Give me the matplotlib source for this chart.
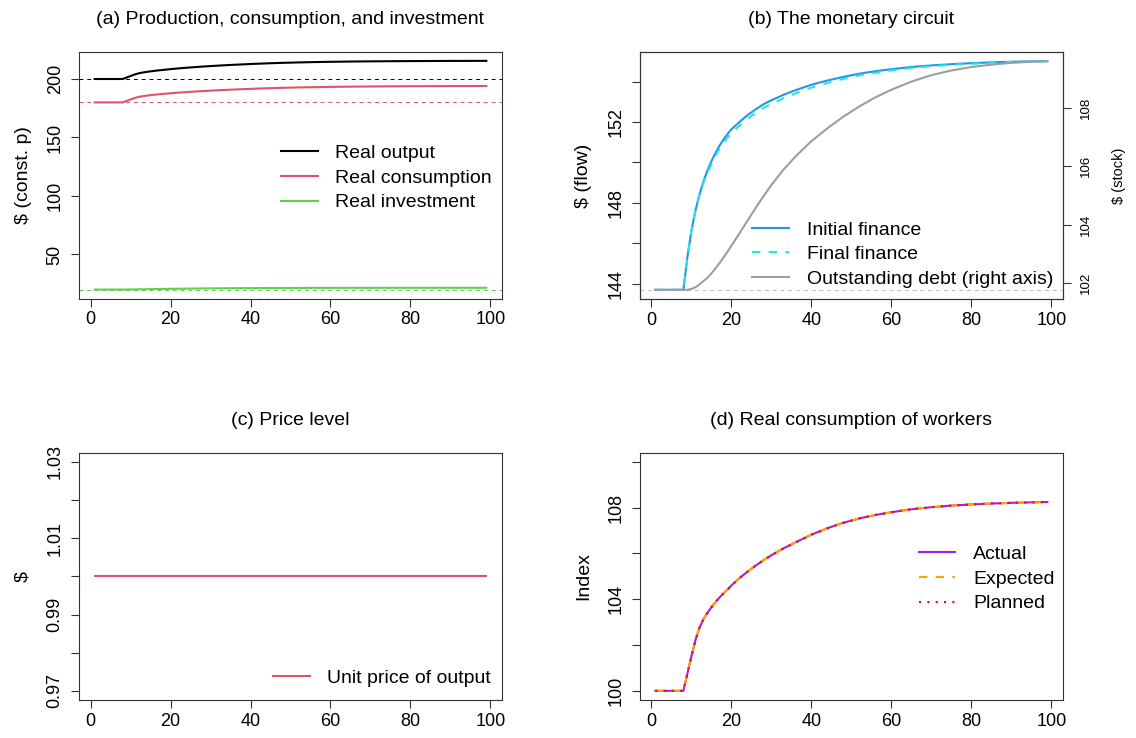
import numpy as np
import matplotlib.pyplot as plt

plt.rcParams['font.family'] = ['Liberation Sans', 'DejaVu Sans']

t = [1, 8, 9, 10, 11, 12, 13, 14, 15, 16, 17, 18, 19, 20, 22, 24, 26, 28, 30,
     33, 36, 40, 44, 48, 52, 56, 60, 65, 70, 75, 80, 85, 90, 95, 99]

# (a) production, consumption, investment (constant prices)
real_output = [200, 200, 201.3, 202.61, 203.85, 204.85, 205.53, 206.07, 206.56,
               206.99, 207.39, 207.75, 208.08, 208.44, 209.08, 209.64, 210.16,
               210.64, 211.07, 211.66, 212.18, 212.83, 213.37, 213.83, 214.19,
               214.48, 214.7, 214.94, 215.1, 215.23, 215.33, 215.4, 215.46,
               215.49, 215.53]
real_consumption = [180, 180, 181.28, 182.55, 183.74, 184.68, 185.3, 185.78,
                    186.21, 186.58, 186.92, 187.23, 187.51, 187.82, 188.36,
                    188.84, 189.28, 189.69, 190.06, 190.57, 191.02, 191.59,
                    192.07, 192.48, 192.8, 193.06, 193.26, 193.48, 193.63,
                    193.75, 193.84, 193.91, 193.96, 193.99, 194.03]
real_investment = [20, 20, 20.02, 20.06, 20.11, 20.17, 20.23, 20.29, 20.35,
                   20.41, 20.47, 20.52, 20.57, 20.62, 20.72, 20.8, 20.88, 20.95,
                   21.01, 21.09, 21.16, 21.24, 21.3, 21.35, 21.39, 21.42, 21.44,
                   21.46, 21.47, 21.48, 21.49, 21.49, 21.5, 21.5, 21.5]
base_output, base_consumption, base_investment = 200, 180, 20

# (b) monetary circuit
initial_finance = [143.69, 143.69, 145.3, 146.6, 147.6, 148.4, 149.05, 149.6,
                   150.06, 150.46, 150.82, 151.13, 151.4, 151.64, 152.0, 152.34,
                   152.62, 152.88, 153.08, 153.35, 153.58, 153.85, 154.06,
                   154.24, 154.4, 154.52, 154.62, 154.73, 154.81, 154.87,
                   154.92, 154.96, 154.99, 155.01, 155.02]
final_finance = [143.69, 143.69, 145.3, 146.6, 147.6, 148.4, 148.97, 149.48,
                 149.91, 150.31, 150.67, 150.95, 151.22, 151.46, 151.82, 152.16,
                 152.44, 152.7, 152.9, 153.18, 153.42, 153.71, 153.94, 154.14,
                 154.32, 154.44, 154.56, 154.68, 154.77, 154.84, 154.89, 154.94,
                 154.98, 155.01, 155.02]
outstanding_debt = [101.77, 101.77, 101.77, 101.8, 101.86, 101.95, 102.07,
                    102.18, 102.33, 102.5, 102.68, 102.87, 103.07, 103.28,
                    103.7, 104.13, 104.56, 104.97, 105.36, 105.88, 106.33,
                    106.86, 107.3, 107.7, 108.05, 108.36, 108.62, 108.9, 109.12,
                    109.28, 109.4, 109.48, 109.54, 109.58, 109.6]

# (c) price level
price_t = [1, 99]
unit_price = [1.0, 1.0]

# (d) real consumption of workers, index
cons_actual = [100, 100, 100.75, 101.5, 102.2, 102.75, 103.12, 103.4, 103.65,
               103.87, 104.07, 104.25, 104.42, 104.6, 104.92, 105.2, 105.46,
               105.7, 105.92, 106.22, 106.48, 106.82, 107.1, 107.34, 107.53,
               107.68, 107.8, 107.93, 108.02, 108.09, 108.14, 108.18, 108.21,
               108.23, 108.25]
cons_expected = cons_actual[:]
cons_planned = cons_actual[:]

W, H = 1136, 738
fig = plt.figure(figsize=(W / 100, H / 100), dpi=100)


def box(x0, y0, x1, y1):
    return [x0 / W, 1 - y1 / H, (x1 - x0) / W, (y1 - y0) / H]


SPINE = '#333333'
LW = 1.5
TICK = 13
TEXT = 14


def style(ax, title):
    for s in ax.spines.values():
        s.set_color(SPINE)
        s.set_linewidth(0.8)
    ax.tick_params(which='both', length=6, width=0.8, color=SPINE,
                   labelsize=TICK, direction='out')
    ax.tick_params(axis='x', pad=3)
    ax.tick_params(axis='y', pad=5, labelrotation=90)
    ax.set_xticks([0, 20, 40, 60, 80, 100])
    ax.set_xlim(1 - 0.04 * 98, 99 + 0.04 * 98)
    ax.text(0.5, 1 + 32 / 247, title, ha='center', va='center',
            fontsize=TEXT, transform=ax.transAxes)


def ylab(ax, text):
    ax.set_ylabel(text, fontsize=TEXT, va='center')
    ax.yaxis.set_label_coords(-56 / 423, 0.5)


def legend(ax, x_px, y_px):
    ax.legend(loc='center left', bbox_to_anchor=(x_px / W, 1 - y_px / H),
              bbox_transform=fig.transFigure, frameon=False, fontsize=TEXT,
              borderpad=0, borderaxespad=0, handlelength=1.9,
              handletextpad=0.9, labelspacing=0.36)


# (a)
ax1 = fig.add_axes(box(79, 51.7, 502, 298.7))
ax1.axhline(base_output, color='black', lw=0.7, ls=(0, (4, 4)))
ax1.axhline(base_consumption, color='#DF536B', lw=0.7, ls=(0, (4, 4)))
ax1.axhline(base_investment, color='#61D04F', lw=0.7, ls=(0, (4, 4)))
ax1.plot(t, real_output, color='black', lw=LW, label='Real output')
ax1.plot(t, real_consumption, color='#DF536B', lw=LW, label='Real consumption')
ax1.plot(t, real_investment, color='#61D04F', lw=LW, label='Real investment')
ax1.margins(y=0.04)
style(ax1, '(a) Production, consumption, and investment')
ax1.set_yticks([50, 100, 150, 200])
plt.setp(ax1.get_yticklabels(), va='center')
ylab(ax1, '$ (const. p)')
legend(ax1, 281, 178)

# (b)
ax2 = fig.add_axes(box(639.7, 52, 1063, 299))
ax2.plot(t, initial_finance, color='#2297E6', lw=LW, label='Initial finance')
ax2.plot(t, final_finance, color='#28E2E5', lw=LW, ls=(0, (4, 4)),
         label='Final finance')
ax2.plot([], [], color='#9E9E9E', lw=LW, label='Outstanding debt (right axis)')
ax2.margins(y=0.04)
style(ax2, '(b) The monetary circuit')
ax2.set_yticks([144, 148, 152])
ax2.set_yticks([146, 150, 154], minor=True)
plt.setp(ax2.get_yticklabels(), va='center')
ylab(ax2, '$ (flow)')

ax2r = ax2.twinx()
ax2r.axhline(outstanding_debt[0], color='#BEBEBE', lw=0.7, ls=(0, (4, 4)))
ax2r.plot(t, outstanding_debt, color='#9E9E9E', lw=LW)
ax2r.margins(y=0.04)
ax2r.set_yticks([102, 104, 106, 108])
for s in ax2r.spines.values():
    s.set_color(SPINE)
    s.set_linewidth(0.8)
ax2r.tick_params(length=6, width=0.8, color=SPINE, labelsize=9.5, pad=6,
                 labelrotation=90)
plt.setp(ax2r.get_yticklabels(), va='center')
ax2r.set_ylabel('$ (stock)', fontsize=10.5, va='center', rotation=90)
ax2r.yaxis.set_label_coords(1 + 56 / 423, 0.5)
legend(ax2, 752.3, 254.5)

# (c)
ax3 = fig.add_axes(box(79, 452.7, 502, 700))
ax3.plot(price_t, unit_price, color='#DF536B', lw=LW, label='Unit price of output')
style(ax3, '(c) Price level')
ax3.set_ylim(0.97 - 0.0024, 1.03 + 0.0024)
ax3.set_yticks([0.97, 0.99, 1.01, 1.03], ['0.97', '0.99', '1.01', '1.03'])
ax3.set_yticks([0.98, 1.00, 1.02], minor=True)
plt.setp(ax3.get_yticklabels(), va='center')
ylab(ax3, '$')
legend(ax3, 273, 678)

# (d)
ax4 = fig.add_axes(box(639.7, 452.7, 1063, 700))
ax4.plot(t, cons_actual, color='#A020F0', lw=LW, label='Actual')
ax4.plot(t, cons_expected, color='#FFA500', lw=LW, ls=(0, (4, 4)),
         label='Expected')
ax4.plot(t, cons_planned, color='#FF0000', lw=LW, ls=(0, (1, 3)),
         label='Planned')
style(ax4, '(d) Real consumption of workers')
ax4.set_ylim(99.6, 110.4)
ax4.set_yticks([100, 104, 108])
ax4.set_yticks([102, 106, 110], minor=True)
plt.setp(ax4.get_yticklabels(), va='center')
ylab(ax4, 'Index')
legend(ax4, 918.5, 579)

fig.savefig('out.png', dpi=100)
